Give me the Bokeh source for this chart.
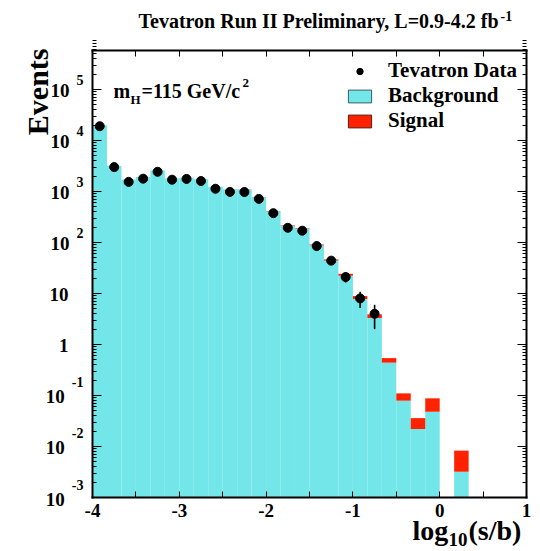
import numpy as np
from bokeh.plotting import figure
from bokeh.models import (Range1d, LinearAxis, LogAxis, FixedTicker, Label,
                          Legend, LegendItem, ColumnDataSource)
from bokeh.embed import file_html
from bokeh.resources import INLINE

# ---- binning in log10(s/b) ----
BIN_LO, BIN_HI, N_BINS = -4.0, 1.0, 30

# ---- histogram contents per bin (events) ----
background = [19900, 3150, 1720, 1930, 2580, 1800, 1860, 1730, 1230, 1100,
              1080, 760, 410, 210, 185, 88, 44, 22.3, 7.8, 3.3,
              0.44, 0.079, 0.022, 0.048, 0, 0.0032, 0, 0, 0, 0]
signal = [2.0, 0.7, 0.55, 0.9, 1.8, 1.9, 2.7, 3.8, 3.9, 5.0,
          7.3, 7.6, 6.1, 4.2, 5.4, 3.6, 2.6, 2.0, 1.1, 0.6,
          0.10, 0.031, 0.014, 0.040, 0, 0.0051, 0, 0, 0, 0]
data = [19000, 3000, 1540, 1780, 2430, 1700, 1760, 1600, 1130, 980,
        975, 715, 375, 194, 170, 85, 44, 21, 8, 4,
        0, 0, 0, 0, 0, 0, 0, 0, 0, 0]

x_tick_labels = ["-4", "-3", "-2", "-1", "0", "1"]
y_decades = [-3, -2, -1, 0, 1, 2, 3, 4, 5]

Y_MIN, Y_MAX = 1e-3, 5.8e5
CYAN = "#72E6E9"
RED = "#FF2200"
SERIF = "Liberation Serif"

# page and pad geometry (pixels from the top-left corner)
W, H = 540, 551
PAD_L, PAD_R, PAD_T, PAD_B = 92, 526, 50, 497

# the drawing frame fills the page; the pad is placed inside it through the ranges
ppu = (PAD_R - PAD_L) / (BIN_HI - BIN_LO)
x_start = BIN_LO - PAD_L / ppu
x_end = BIN_HI + (W - PAD_R) / ppu
ppd = (PAD_B - PAD_T) / (np.log10(Y_MAX) - np.log10(Y_MIN))
y_start = 10 ** (np.log10(Y_MIN) - (H - PAD_B) / ppd)
y_end = 10 ** (np.log10(Y_MAX) + PAD_T / ppd)

edges = np.linspace(BIN_LO, BIN_HI, N_BINS + 1)
left, right = edges[:-1], edges[1:]
centers = 0.5 * (left + right)
bg = np.array(background, dtype=float)
sg = np.array(signal, dtype=float)
dt = np.array(data, dtype=float)

p = figure(width=W, height=H, output_backend="svg", toolbar_location=None,
           x_range=Range1d(x_start, x_end), y_range=Range1d(y_start, y_end),
           y_axis_type="log", x_axis_location=None, y_axis_location=None,
           min_border=0)
p.grid.visible = False
p.outline_line_color = None
p.background_fill_color = "white"
p.border_fill_color = "white"

# background histogram
has_bg = bg > 0
bg_src = ColumnDataSource(dict(left=left[has_bg], right=right[has_bg],
                               bottom=np.full(has_bg.sum(), Y_MIN), top=bg[has_bg]))
p.quad(left="left", right="right", bottom="bottom", top="top", source=bg_src,
       fill_color=CYAN, line_color=None)

# signal stacked on top of background
has_sg = sg > 0
sg_src = ColumnDataSource(dict(left=left[has_sg], right=right[has_sg],
                               bottom=bg[has_sg], top=bg[has_sg] + sg[has_sg]))
p.quad(left="left", right="right", bottom="bottom", top="top", source=sg_src,
       fill_color=RED, line_color=None)

# data with Poisson errors
has_dt = dt > 0
err = np.sqrt(dt[has_dt])
dt_src = ColumnDataSource(dict(x=centers[has_dt], y=dt[has_dt],
                               lo=dt[has_dt] - err, hi=dt[has_dt] + err))
p.segment(x0="x", x1="x", y0="lo", y1="hi", source=dt_src,
          line_color="black", line_width=1.6)
pts = p.scatter(x="x", y="y", source=dt_src, size=9, fill_color="black",
                line_color="black")

# legend swatches (single empty entry so the legend has something to draw)
leg_bg = p.quad(left=[np.nan], right=[np.nan], bottom=[np.nan], top=[np.nan],
                fill_color=CYAN, line_color="#3a5f60", line_width=1)
leg_sg = p.quad(left=[np.nan], right=[np.nan], bottom=[np.nan], top=[np.nan],
                fill_color=RED, line_color="#5a1a10", line_width=1)
legend = Legend(items=[LegendItem(label="Tevatron Data", renderers=[pts]),
                       LegendItem(label="Background", renderers=[leg_bg]),
                       LegendItem(label="Signal", renderers=[leg_sg])],
                location=(345, H - 133), orientation="vertical",
                glyph_width=29, glyph_height=16, label_height=16,
                label_standoff=14, spacing=0, padding=0, margin=0,
                border_line_color=None, background_fill_alpha=0,
                label_text_font=SERIF, label_text_font_style="bold",
                label_text_font_size="21px", label_text_line_height=1.0,
                label_text_color="black")
p.add_layout(legend, "center")

# ---- pad frame and ticks: four axes pinned to the pad edges, ticks inward ----
x_ticks = [BIN_LO + 0.5 * i for i in range(11)]
x_ticker = FixedTicker(ticks=x_ticks, minor_ticks=[])
y_major = [10.0 ** k for k in y_decades]
y_minor = [m * 10.0 ** k for k in y_decades for m in range(2, 10)]
y_ticker = FixedTicker(ticks=y_major, minor_ticks=y_minor)


def style_axis(ax, tick_in, minor_in):
    ax.axis_line_color = "black"
    ax.axis_line_width = 2
    ax.axis_line_cap = "square"
    ax.major_label_text_font_size = "0px"
    ax.major_label_text_alpha = 0
    ax.major_label_standoff = 0
    ax.major_tick_out = 0
    ax.minor_tick_out = 0
    ax.major_tick_in = tick_in
    ax.minor_tick_in = minor_in
    ax.major_tick_line_color = "black"
    ax.minor_tick_line_color = "black"
    ax.major_tick_line_width = 1
    ax.minor_tick_line_width = 1
    ax.axis_label = None


bottom_ax = LinearAxis(ticker=x_ticker, fixed_location=Y_MIN, bounds=(BIN_LO, BIN_HI))
top_ax = LinearAxis(ticker=x_ticker, fixed_location=Y_MAX, bounds=(BIN_LO, BIN_HI))
left_ax = LogAxis(ticker=y_ticker, fixed_location=BIN_LO, bounds=(Y_MIN, Y_MAX))
right_ax = LogAxis(ticker=y_ticker, fixed_location=BIN_HI, bounds=(Y_MIN, Y_MAX))
for ax, place, t_in, m_in in [(bottom_ax, "below", 6, 0), (top_ax, "above", 6, 0),
                              (left_ax, "left", 9, 4), (right_ax, "right", 9, 4)]:
    style_axis(ax, t_in, m_in)
    p.add_layout(ax, place)


def lab(text, x, y, size, x_units="data", align="left", y_off=0, angle=0.0):
    # every text is anchored at the vertical middle of its glyphs
    p.add_layout(Label(text=text, x=x, y=y, x_units=x_units, y_units="data",
                       text_align=align, text_baseline="middle",
                       y_offset=y_off, angle=angle,
                       text_font=SERIF, text_font_style="bold",
                       text_font_size=f"{size}px", text_color="black"))


# y tick labels: 1, 10 and 10 with a raised exponent
EXP_SIZE = 14
for k in y_decades:
    yv = 10.0 ** k
    if k in (0, 1):
        lab("1" if k == 0 else "10", 68, yv, 19, x_units="screen", align="right",
            y_off=-1.5)
    else:
        e = str(k)
        e_w = sum(0.333 if c == "-" else 0.5 for c in e) * EXP_SIZE
        lab(e, 83, yv, EXP_SIZE, x_units="screen", align="right",
            y_off=9 if k > 0 else 13)
        lab("10", 83 - e_w - 7, yv, 19, x_units="screen", align="right",
            y_off=-1.5)

# x tick labels
for t, s in zip(range(-4, 2), x_tick_labels):
    lab(s, t, Y_MIN, 19, align="center", y_off=-13)

# x axis title: log10(s/b)
lab("log", 412, Y_MIN, 28, x_units="screen", y_off=-33)
lab("10", 448, Y_MIN, 19, x_units="screen", y_off=-42)
lab("(s/b)", 468, Y_MIN, 28, x_units="screen", y_off=-33)

# y axis title
lab("Events", 37, Y_MAX, 30, x_units="screen", align="right", y_off=2,
    angle=np.pi / 2)

# header
lab("Tevatron Run II Preliminary, L=0.9-4.2 fb", 498, Y_MAX, 20,
    x_units="screen", align="right", y_off=30)
lab("-1", 500, Y_MAX, 14, x_units="screen", y_off=35)

# Higgs mass annotation
lab("m", 113, Y_MAX, 20, x_units="screen", y_off=-40)
lab("H", 130, Y_MAX, 13, x_units="screen", y_off=-49)
lab("=115 GeV/c", 141, Y_MAX, 20, x_units="screen", y_off=-40)
lab("2", 242, Y_MAX, 13, x_units="screen", y_off=-32)

open("out.html", "w").write(file_html(p, INLINE))
